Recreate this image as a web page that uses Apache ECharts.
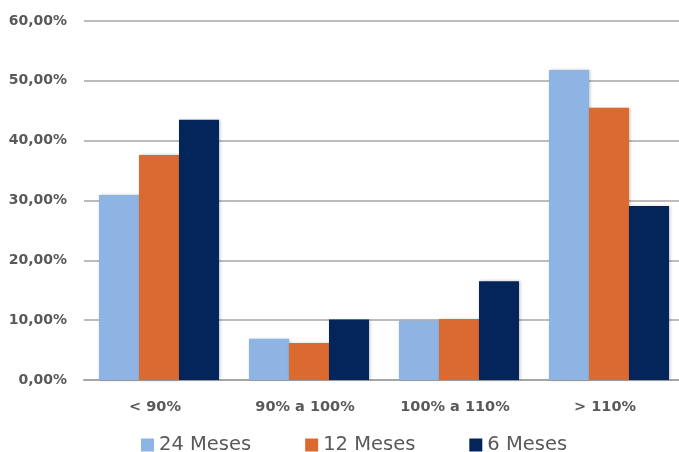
<!DOCTYPE html>
<html>
<head>
<meta charset="utf-8">
<script src="https://cdn.jsdelivr.net/npm/echarts@6/dist/echarts.min.js"></script>
<style>
  html, body { margin: 0; padding: 0; background: #fff; }
  #chart { width: 679px; height: 452px; }
</style>
</head>
<body>
<div id="chart"></div>
<script>
// Distribution bands and share of cases per horizon (percent)
const categories = ['< 90%', '90% a 100%', '100% a 110%', '> 110%'];
const seriesNames = ['24 Meses', '12 Meses', '6 Meses'];
const meses24 = [30.9, 6.9, 9.9, 51.8];
const meses12 = [37.6, 6.2, 10.2, 45.5];
const meses6 = [43.5, 10.1, 16.5, 29.1];
const yTicks = { min: 0, max: 60, interval: 10 };

const colors = ['#8EB4E3', '#DA6A30', '#03255A'];
const labelFont = '"DejaVu Sans", "Liberation Sans", sans-serif';

const chart = echarts.init(document.getElementById('chart'));

function barSeries(name, data, color) {
  return {
    name: name,
    type: 'bar',
    data: data,
    barGap: '0%',
    barCategoryGap: '20%',
    itemStyle: {
      color: color,
      shadowBlur: 3,
      shadowColor: 'rgba(0,0,0,0.25)',
      shadowOffsetX: 1,
      shadowOffsetY: 0
    }
  };
}

chart.setOption({
  animation: false,
  backgroundColor: '#ffffff',
  grid: {
    left: 84, top: 21, width: 600, height: 359,
    containLabel: false,
    outerBoundsMode: 'none'
  },
  legend: {
    data: seriesNames,
    left: 136,
    top: 430,
    itemWidth: 13,
    itemHeight: 13,
    itemGap: 54,
    icon: 'rect',
    textStyle: { color: '#595959', fontSize: 19.5, fontFamily: labelFont }
  },
  xAxis: {
    type: 'category',
    data: categories,
    axisLine: { show: true, lineStyle: { color: '#A6A6A6', width: 2 } },
    axisTick: { show: false },
    axisLabel: {
      color: '#595959',
      fontSize: 14.5,
      fontWeight: 'bold',
      fontFamily: labelFont,
      margin: 20,
      padding: [0, 8, 0, 0]
    }
  },
  yAxis: {
    type: 'value',
    min: yTicks.min,
    max: yTicks.max,
    interval: yTicks.interval,
    axisLine: { show: false },
    axisTick: { show: false },
    splitLine: { lineStyle: { color: '#A6A6A6', width: 1.5 } },
    axisLabel: {
      color: '#595959',
      fontSize: 14,
      fontWeight: 'bold',
      fontFamily: labelFont,
      margin: 17,
      formatter: function (v) { return v.toFixed(2).replace('.', ',') + '%'; }
    }
  },
  series: [
    barSeries(seriesNames[0], meses24, colors[0]),
    barSeries(seriesNames[1], meses12, colors[1]),
    barSeries(seriesNames[2], meses6, colors[2])
  ]
});
</script>
</body>
</html>
